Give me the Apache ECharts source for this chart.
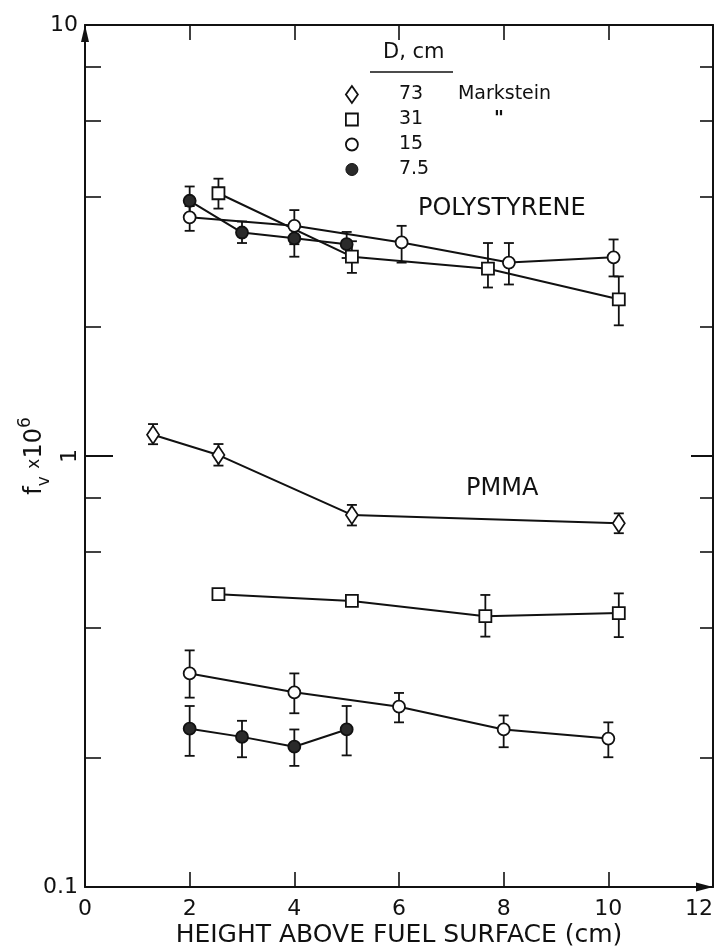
<!DOCTYPE html>
<html>
<head>
<meta charset="utf-8">
<script src="https://cdn.jsdelivr.net/npm/echarts@6/dist/echarts.min.js"></script>
<style>html,body{margin:0;padding:0;background:#fff;}#c{width:719px;height:946px;}</style>
</head>
<body>
<div id="c"></div>
<script>
// ---------- data ----------
const xTickLabels = [0, 2, 4, 6, 8, 10, 12];
const xTickValues = [2, 4, 6, 8, 10];
const yLabelValues = [0.1, 10];
const yMidLabelValues = [1];
const yMinorTicks = [0.2, 0.4, 0.6, 0.8, 2, 4, 6, 8];
const legendNames = ['73', '31', '15', '7.5'];

// Polystyrene
const psD31X = [2.55, 5.1, 7.7, 10.2];
const psD31Y = [4.07, 2.90, 2.72, 2.31];
const psD31Err = [[2.55, 3.75, 4.40], [5.1, 2.66, 3.15], [7.7, 2.46, 3.12], [10.2, 2.01, 2.61]];

const psD15X = [2.0, 4.0, 6.05, 8.1, 10.1];
const psD15Y = [3.58, 3.42, 3.13, 2.81, 2.89];
const psD15Err = [[2.0, 3.33, 3.80], [4.0, 3.10, 3.72], [6.05, 2.81, 3.42], [8.1, 2.50, 3.12], [10.1, 2.61, 3.18]];

const psD75X = [2.0, 3.0, 4.0, 5.0];
const psD75Y = [3.91, 3.30, 3.20, 3.10];
const psD75Err = [[2.0, 3.60, 4.22], [3.0, 3.12, 3.50], [4.0, 2.90, 3.45], [5.0, 2.88, 3.31]];

// PMMA
const pmD73X = [1.3, 2.55, 5.1, 10.2];
const pmD73Y = [1.12, 1.005, 0.73, 0.698];
const pmD73Err = [[1.3, 1.065, 1.186], [2.55, 0.95, 1.066], [5.1, 0.69, 0.77], [10.2, 0.662, 0.736]];

const pmD31X = [2.55, 5.1, 7.65, 10.2];
const pmD31Y = [0.478, 0.461, 0.425, 0.432];
const pmD31Err = [[7.65, 0.381, 0.476], [10.2, 0.38, 0.48]];

const pmD15X = [2.0, 4.0, 6.0, 8.0, 10.0];
const pmD15Y = [0.313, 0.283, 0.262, 0.232, 0.221];
const pmD15Err = [[2.0, 0.275, 0.354], [4.0, 0.253, 0.313], [6.0, 0.241, 0.282], [8.0, 0.211, 0.250], [10.0, 0.200, 0.241]];

const pmD75X = [2.0, 3.0, 4.0, 5.0];
const pmD75Y = [0.233, 0.223, 0.2116, 0.232];
const pmD75Err = [[2.0, 0.2015, 0.263], [3.0, 0.20, 0.243], [4.0, 0.191, 0.232], [5.0, 0.202, 0.263]];

// ---------- chart ----------
const FONT = 'DejaVu Sans';
const INK = '#111';
const zip = (xs, ys) => xs.map((x, i) => [x, ys[i]]);

const styles = {
  '73': { symbol: 'diamond', symbolSize: [12, 18], fill: '#fff' },
  '31': { symbol: 'rect', symbolSize: [12, 12], fill: '#fff' },
  '15': { symbol: 'circle', symbolSize: 12, fill: '#fff' },
  '7.5': { symbol: 'circle', symbolSize: 12, fill: '#2a2a2a' }
};

function lineSeries(name, xs, ys) {
  const s = styles[name];
  return {
    type: 'line', name: name, data: zip(xs, ys), z: 3,
    symbol: s.symbol, symbolSize: s.symbolSize, showAllSymbol: true,
    lineStyle: { color: INK, width: 2 },
    itemStyle: { color: s.fill, borderColor: INK, borderWidth: 1.8, opacity: 1 },
    emphasis: { disabled: true }, silent: true, animation: false
  };
}

function errSeries(data) {
  return {
    type: 'custom', data: data, z: 1, silent: true, animation: false,
    encode: { x: 0, y: [1, 2] },
    renderItem: function (params, api) {
      const x = api.value(0);
      const lo = api.coord([x, api.value(1)]);
      const hi = api.coord([x, api.value(2)]);
      const h = 5;
      const st = { stroke: INK, lineWidth: 1.8 };
      return {
        type: 'group', children: [
          { type: 'line', shape: { x1: lo[0], y1: lo[1], x2: hi[0], y2: hi[1] }, style: st },
          { type: 'line', shape: { x1: lo[0] - h, y1: lo[1], x2: lo[0] + h, y2: lo[1] }, style: st },
          { type: 'line', shape: { x1: hi[0] - h, y1: hi[1], x2: hi[0] + h, y2: hi[1] }, style: st }
        ]
      };
    }
  };
}

const axisLineStyle = { color: INK, width: 2 };

function logAxis(extra) {
  return Object.assign({
    type: 'log', logBase: 10, min: 0.1, max: 10,
    splitLine: { show: false }, minorSplitLine: { show: false },
    axisLine: { show: false, lineStyle: axisLineStyle }
  }, extra);
}

const option = {
  animation: false,
  backgroundColor: '#fff',
  textStyle: { fontFamily: FONT, color: INK },
  grid: { left: 85, right: 6, top: 25, bottom: 59, containLabel: false, outerBoundsMode: 'none' },
  legend: {
    orient: 'vertical', left: 345, top: 85, padding: 0,
    itemWidth: 12, itemHeight: 17, itemGap: 6, selectedMode: false,
    data: [
      { name: '73', icon: 'diamond', itemStyle: { color: '#fff', borderColor: INK, borderWidth: 1.8 } },
      { name: '31', icon: 'path://M0,0M12,17M0,2.5L12,2.5L12,14.5L0,14.5Z', itemStyle: { color: '#fff', borderColor: INK, borderWidth: 1.8 } },
      { name: '15', icon: 'circle', itemStyle: { color: '#fff', borderColor: INK, borderWidth: 1.8 } },
      { name: '7.5', icon: 'circle', itemStyle: { color: '#2a2a2a', borderColor: INK, borderWidth: 1 } }
    ],
    formatter: function (name) {
      if (name === '73') return '{n|' + name + '}{m|Markstein}';
      if (name === '31') return '{n|' + name + '}{d|"}';
      return '{n|' + name + '}';
    },
    textStyle: {
      fontFamily: FONT, fontSize: 19, color: INK,
      rich: {
        n: { fontFamily: FONT, fontSize: 19, width: 59, padding: [0, 0, 0, 36], color: INK },
        m: { fontFamily: FONT, fontSize: 19, color: INK },
        d: { fontFamily: FONT, fontSize: 19, fontWeight: 'bold', padding: [0, 0, 0, 36], color: INK }
      }
    }
  },
  xAxis: [
    {
      type: 'value', position: 'bottom', min: 0, max: 12, interval: 2,
      splitLine: { show: false },
      axisLine: { show: true, lineStyle: axisLineStyle, symbol: ['none', 'triangle'], symbolSize: [9, 17], symbolOffset: [0, -8.5] },
      axisTick: { show: true, inside: true, length: 15, customValues: xTickValues, lineStyle: { color: INK, width: 1.6 } },
      axisLabel: { show: true, customValues: xTickLabels, margin: 11, fontSize: 22, fontFamily: FONT, color: INK, alignMaxLabel: 'right' },
      name: 'HEIGHT ABOVE FUEL SURFACE (cm)', nameLocation: 'middle', nameGap: 36, nameMoveOverlap: false,
      nameTextStyle: { fontSize: 25, fontFamily: FONT, color: INK }
    },
    {
      type: 'value', position: 'top', min: 0, max: 12, interval: 2,
      splitLine: { show: false },
      axisLine: { show: true, lineStyle: axisLineStyle },
      axisTick: { show: true, inside: true, length: 15, customValues: xTickValues, lineStyle: { color: INK, width: 1.6 } },
      axisLabel: { show: false }
    }
  ],
  yAxis: [
    logAxis({
      position: 'left',
      axisLine: { show: true, lineStyle: axisLineStyle, symbol: ['none', 'triangle'], symbolSize: [8, 17], symbolOffset: [0, -8.5] },
      axisTick: { show: true, inside: true, length: 16, customValues: yMinorTicks, lineStyle: { color: INK, width: 1.6 } },
      axisLabel: { show: true, customValues: yLabelValues, margin: 7, fontSize: 22, fontFamily: FONT, color: INK,
        formatter: function (v) { return v >= 10 ? '10' : (v >= 1 ? '1' : '0.1'); } },
      name: 'f{v|v} {x|x}10{s|6}', nameLocation: 'middle', nameRotate: 90, nameGap: 32, nameMoveOverlap: false,
      nameTextStyle: {
        fontFamily: FONT, fontSize: 24, color: INK, lineHeight: 36,
        rich: {
          v: { fontFamily: FONT, fontSize: 17, verticalAlign: 'bottom', lineHeight: 36, color: INK },
          x: { fontFamily: FONT, fontSize: 17, color: INK },
          s: { fontFamily: FONT, fontSize: 17, verticalAlign: 'top', lineHeight: 36, color: INK }
        }
      }
    }),
    logAxis({
      position: 'left',
      axisTick: { show: true, inside: true, length: 28, customValues: [1], lineStyle: { color: INK, width: 2 } },
      axisLabel: { show: true, customValues: yMidLabelValues, rotate: 90, margin: 4, fontSize: 22, fontFamily: FONT, color: INK,
        formatter: function () { return '1'; } }
    }),
    logAxis({
      position: 'right',
      axisLine: { show: true, lineStyle: axisLineStyle },
      axisTick: { show: true, inside: true, length: 13, customValues: yMinorTicks, lineStyle: { color: INK, width: 1.6 } },
      axisLabel: { show: false }
    }),
    logAxis({
      position: 'right',
      axisTick: { show: true, inside: true, length: 22, customValues: [1], lineStyle: { color: INK, width: 2 } },
      axisLabel: { show: false }
    })
  ],
  graphic: [
    { type: 'text', left: 383, top: 42, style: { text: 'D, cm', font: '21px "DejaVu Sans"', fill: INK } },
    { type: 'line', shape: { x1: 370, y1: 72, x2: 453, y2: 72 }, style: { stroke: INK, lineWidth: 1.6 } },
    { type: 'text', left: 418, top: 197, style: { text: 'POLYSTYRENE', font: '24px "DejaVu Sans"', fill: INK } },
    { type: 'text', left: 466, top: 477, style: { text: 'PMMA', font: '24px "DejaVu Sans"', fill: INK } }
  ],
  series: [
    errSeries(psD31Err), errSeries(psD15Err), errSeries(psD75Err),
    errSeries(pmD73Err), errSeries(pmD31Err), errSeries(pmD15Err), errSeries(pmD75Err),
    lineSeries('31', psD31X, psD31Y),
    lineSeries('15', psD15X, psD15Y),
    lineSeries('7.5', psD75X, psD75Y),
    lineSeries('73', pmD73X, pmD73Y),
    lineSeries('31', pmD31X, pmD31Y),
    lineSeries('15', pmD15X, pmD15Y),
    lineSeries('7.5', pmD75X, pmD75Y)
  ]
};

const chart = echarts.init(document.getElementById('c'), null, { renderer: 'canvas' });
chart.setOption(option);
</script>
</body>
</html>
